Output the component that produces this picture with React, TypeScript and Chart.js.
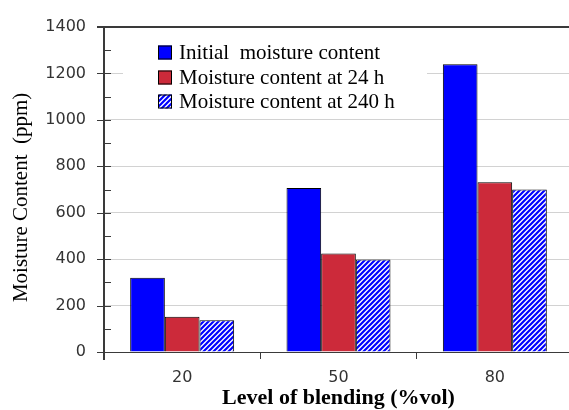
import React, { useEffect, useRef } from 'react';
import { Chart, registerables } from 'chart.js';

Chart.register(...registerables);

const categories = ['20', '50', '80'];
const initialMoisture = [320, 706, 1240];
const moisture24h = [152, 424, 731];
const moisture240h = [137, 399, 700];
const seriesLabels = [
  'Initial  moisture content',
  'Moisture content at 24 h',
  'Moisture content at 240 h',
];
const yMin = 0;
const yMax = 1400;
const yStep = 100;
const yLabelStep = 200;
const xTitle = 'Level of blending (%vol)';
const yTitle = 'Moisture Content  (ppm)   ';

const AXIS = '#3a3a3a';
const GRID = '#d2d2d2';
const BLUE = '#0000ff';
const RED = '#cc2a3a';

function makeHatch(): CanvasPattern | string {
  const p = 5;
  const c = document.createElement('canvas');
  c.width = p;
  c.height = p;
  const g = c.getContext('2d');
  if (!g) return BLUE;
  g.fillStyle = '#ffffff';
  g.fillRect(0, 0, p, p);
  g.strokeStyle = BLUE;
  g.lineWidth = 2.2;
  g.beginPath();
  g.moveTo(0, p);
  g.lineTo(p, 0);
  g.moveTo(-1, 1);
  g.lineTo(1, -1);
  g.moveTo(p - 1, p + 1);
  g.lineTo(p + 1, p - 1);
  g.stroke();
  const pat = g.createPattern(c, 'repeat');
  return pat || BLUE;
}

const axisFramePlugin = {
  id: 'axisFrame',
  afterDraw(chart: any) {
    const y = chart.scales.y;
    const ctx = chart.ctx;
    const area = chart.chartArea;
    const left = Math.round(area.left);
    const top = Math.round(y.getPixelForValue(yMax));
    const bottom = Math.round(y.getPixelForValue(yMin));
    const right = Math.round(area.right);
    ctx.save();
    ctx.fillStyle = AXIS;
    // y axis line
    ctx.fillRect(left - 1, top, 2, bottom - top + 8);
    // top frame line
    ctx.fillRect(left - 7, top - 1, right - left + 7, 2);
    // ticks: inner for all, outer for labelled ones
    y.ticks.forEach((t: any) => {
      const py = Math.round(y.getPixelForValue(t.value));
      const outer = t.value % yLabelStep === 0 ? 7 : 0;
      ctx.fillRect(left - outer, py, outer + 7, 1);
    });
    ctx.restore();
  },
};

const innerLegendPlugin = {
  id: 'innerLegend',
  afterDraw(chart: any) {
    const ctx = chart.ctx;
    ctx.save();
    ctx.fillStyle = '#ffffff';
    ctx.fillRect(123, 36, 304, 77);
    const rows = [52.5, 77.5, 101.5];
    ctx.font = '21px "Liberation Serif", "Times New Roman", serif';
    ctx.textBaseline = 'middle';
    ctx.textAlign = 'left';
    chart.data.datasets.forEach((ds: any, i: number) => {
      const cy = rows[i];
      ctx.fillStyle = ds.backgroundColor;
      ctx.fillRect(158, cy - 7, 14, 14);
      ctx.strokeStyle = '#000000';
      ctx.lineWidth = 1;
      ctx.strokeRect(158.5, cy - 6.5, 13, 13);
      ctx.fillStyle = '#000000';
      ctx.fillText(ds.label, 179, cy + 1);
    });
    ctx.restore();
  },
};

export default function App() {
  const ref = useRef<HTMLCanvasElement | null>(null);

  useEffect(() => {
    document.body.style.margin = '0';
    if (!ref.current) return;
    const hatch = makeHatch();
    const chart = new Chart(ref.current, {
      type: 'bar',
      data: {
        labels: categories,
        datasets: [
          { label: seriesLabels[0], data: initialMoisture, backgroundColor: BLUE, borderColor: '#000', borderWidth: 1 },
          { label: seriesLabels[1], data: moisture24h, backgroundColor: RED, borderColor: '#000', borderWidth: 1 },
          { label: seriesLabels[2], data: moisture240h, backgroundColor: hatch as any, borderColor: '#000', borderWidth: 1 },
        ],
      },
      options: {
        responsive: false,
        animation: false,
        devicePixelRatio: 1,
        layout: { padding: { left: 0, top: 27, right: 1, bottom: 0 } },
        datasets: { bar: { categoryPercentage: 0.665, barPercentage: 1 } },
        plugins: {
          legend: { display: false },
          tooltip: { enabled: false },
        },
        scales: {
          x: {
            afterFit: (s: any) => { s.height = 58; },
            border: { color: AXIS, width: 1 },
            grid: { offset: true, drawOnChartArea: false, tickLength: 7, tickColor: AXIS },
            ticks: {
              color: '#333333',
              padding: 9,
              font: { family: '"DejaVu Sans", Verdana, sans-serif', size: 16 },
            },
            title: {
              display: true,
              text: xTitle,
              color: '#000000',
              font: { family: '"Liberation Serif", "Times New Roman", serif', size: 22, weight: 'bold', lineHeight: 1 },
              padding: { top: 0, bottom: 1 },
            },
          },
          y: {
            min: yMin,
            max: yMax,
            afterFit: (s: any) => { s.width = 104; },
            border: { display: false },
            grid: {
              color: (c: any) => {
                const v = c.tick ? c.tick.value : 0;
                if (v === yMin || v === yMax) return 'rgba(0,0,0,0)';
                return v % yLabelStep === 0 ? GRID : 'rgba(0,0,0,0)';
              },
              tickLength: 7,
              tickColor: 'rgba(0,0,0,0)',
            },
            ticks: {
              stepSize: yStep,
              autoSkip: false,
              color: '#333333',
              padding: 11,
              font: { family: '"DejaVu Sans", Verdana, sans-serif', size: 16 },
              callback: (v: any) => (Number(v) % yLabelStep === 0 ? String(v) : ''),
            },
            title: {
              display: true,
              text: yTitle,
              color: '#000000',
              font: { family: '"Liberation Serif", "Times New Roman", serif', size: 21, lineHeight: 1.2 },
              padding: { top: 9, bottom: 0 },
            },
          },
        },
      },
      plugins: [axisFramePlugin, innerLegendPlugin],
    });
    return () => chart.destroy();
  }, []);

  return (
    <div style={{ position: 'absolute', left: 0, top: 0, width: 569, height: 410, overflow: 'hidden', background: '#fff' }}>
      <canvas ref={ref} width={574} height={410} style={{ display: 'block' }} />
    </div>
  );
}
